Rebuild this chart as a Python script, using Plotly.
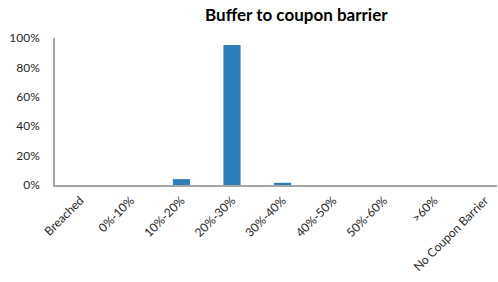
import plotly.graph_objects as go

categories = ["Breached", "0%-10%", "10%-20%", "20%-30%", "30%-40%", "40%-50%", "50%-60%", ">60%", "No Coupon Barrier"]
values = [0, 0, 0.04, 0.952, 0.015, 0, 0, 0, 0]
tick_vals = [0, 0.2, 0.4, 0.6, 0.8, 1.0]
tick_text = ["0%", "20%", "40%", "60%", "80%", "100%"]

fig = go.Figure(go.Bar(x=categories, y=values, marker=dict(color="#2E7EB8", line=dict(width=0)), width=0.34))

fig.update_layout(
    width=498, height=282,
    margin=dict(l=55, r=1, t=38, b=97, autoexpand=False),
    paper_bgcolor="white", plot_bgcolor="white",
    font=dict(family="Lato, Open Sans, sans-serif", size=11, color="#262626"),
    title=dict(text="<b>Buffer to coupon barrier</b>", x=0.595, xanchor="center", xref="container",
               y=1 - 15 / 282, yanchor="middle", font=dict(size=17, color="#000000")),
    showlegend=False,
)
# chart plot area in the reference runs past the right image edge
fig.update_xaxes(range=[-0.5, 8.24], showline=True, linecolor="#A6A6A6", linewidth=1.5, tickangle=-45, ticks="",
                 showgrid=False, tickfont=dict(size=12, color="#262626"), automargin=False, ticklabelstandoff=2)
fig.update_yaxes(range=[0, 1.0], tickvals=tick_vals, ticktext=tick_text, showline=True, linecolor="#A6A6A6",
                 linewidth=1.5, showgrid=False, zeroline=False, ticks="", tickfont=dict(size=12, color="#262626"),
                 automargin=False, ticklabelstandoff=11)

fig.write_html("out.html", config={"displayModeBar": False},
               post_script="document.body.style.margin='0';document.body.style.overflow='hidden';")
